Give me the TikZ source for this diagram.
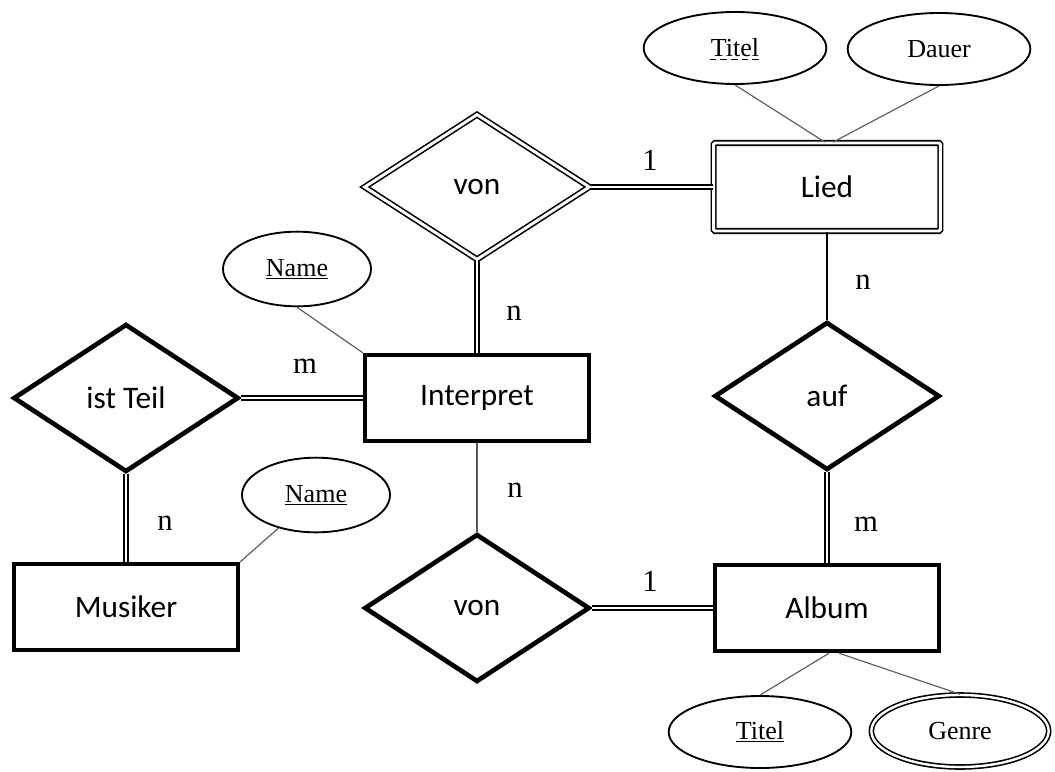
\documentclass[tikz,border=0pt]{standalone}
\usepackage{fontspec}
\setmainfont{Liberation Serif}
\newfontfamily\entfont{Carlito}
\usetikzlibrary{shapes.geometric}

\tikzset{
  entity/.style={draw, rectangle, line width=3.3pt, minimum width=168pt, minimum height=64.5pt,
    inner sep=0pt, font=\entfont\fontsize{23.5}{28}\selectfont},
  weakentity/.style={entity, line width=1.2pt, double, double distance=2.2pt, rounded corners=1pt,
    minimum width=170pt, minimum height=66pt},
  rel/.style={draw, diamond, line width=3.5pt, minimum width=169pt, minimum height=111pt,
    inner sep=0pt, font=\entfont\fontsize{23.5}{28}\selectfont},
  weakrel/.style={rel, line width=1.2pt, double, double distance=2.2pt, minimum height=109pt},
  attr/.style={draw, ellipse, line width=1.4pt, minimum width=137pt, minimum height=54pt,
    inner sep=0pt, font=\fontsize{19.5}{22}\selectfont},
  keyattr/.style={attr, minimum width=111pt, minimum height=56pt},
  multiattr/.style={attr, line width=1.2pt, double, double distance=1.8pt, minimum width=133pt, minimum height=54pt},
  attrline/.style={gray!75!black, line width=0.9pt},
  total/.style={double, line width=1.1pt, double distance=1.8pt},
  card/.style={inner sep=0pt, font=\fontsize{23}{26}\selectfont}
}

\begin{document}
\begin{tikzpicture}[x=0.75pt, y=-0.75pt]
\useasboundingbox (0,0) rectangle (1055,771);

% entities
\node[weakentity] (Lied) at (827,187) {Lied};
\node[entity] (Interpret) at (477,398) {Interpret};
\node[entity] (Musiker) at (126,607) {Musiker};
\node[entity] (Album) at (827,608) {Album};

% relationships
\node[weakrel] (vonA) at (477,187) {von};
\node[rel] (istTeil) at (126,398) {ist Teil};
\node[rel] (vonB) at (477,608) {von};
\node[rel] (auf) at (827,396) {auf};

% attributes
\node[attr] (TitelL) at (735,48) {Titel};
\draw[dash pattern=on 5pt off 3pt, line width=0.8pt]
  ([xshift=-19pt,yshift=-8.5pt]TitelL.center) -- ([xshift=19pt,yshift=-8.5pt]TitelL.center);
\node[attr] (Dauer) at (939,49) {Dauer};
\node[keyattr] (NameI) at (297,269) {\underline{Name}};
\node[keyattr] (NameM) at (316,495) {\underline{Name}};
\node[attr] (TitelA) at (760,732) {\underline{Titel}};
\node[multiattr] (Genre) at (960,731) {Genre};

% connectors
\draw[total] (vonA) -- (Lied);
\draw[total] (vonA) -- (Interpret);
\draw[total] (istTeil) -- (Interpret);
\draw[total] (istTeil) -- (Musiker);
\draw[total] (vonB) -- (Album);
\draw[total] (auf) -- (Album);
\draw[line width=1pt] (Lied) -- (auf);
\draw[gray!70!black, line width=1pt] (Interpret) -- (vonB);

\draw[attrline] (TitelL.south) -- ([xshift=-1.5pt]Lied.north);
\draw[attrline] (Dauer.south) -- ([xshift=4.5pt]Lied.north);
\draw[attrline] (NameI.south) -- (Interpret.north west);
\draw[attrline] (NameM) -- (Musiker.north east);
\draw[attrline] ([xshift=1.5pt]Album.south) -- (TitelA.north);
\draw[attrline] ([xshift=9pt]Album.south) -- (Genre.north);

% cardinalities
\node[card] (c1) at (650,160) {1};
\node[card] (c2) at (514,313) {n};
\node[card] (c3) at (305,366) {m};
\node[card] (c4) at (165,523) {n};
\node[card] (c5) at (515,490) {n};
\node[card] (c6) at (650,581) {1};
\node[card] (c7) at (863,282) {n};
\node[card] (c8) at (866,524) {m};
\end{tikzpicture}
\end{document}
